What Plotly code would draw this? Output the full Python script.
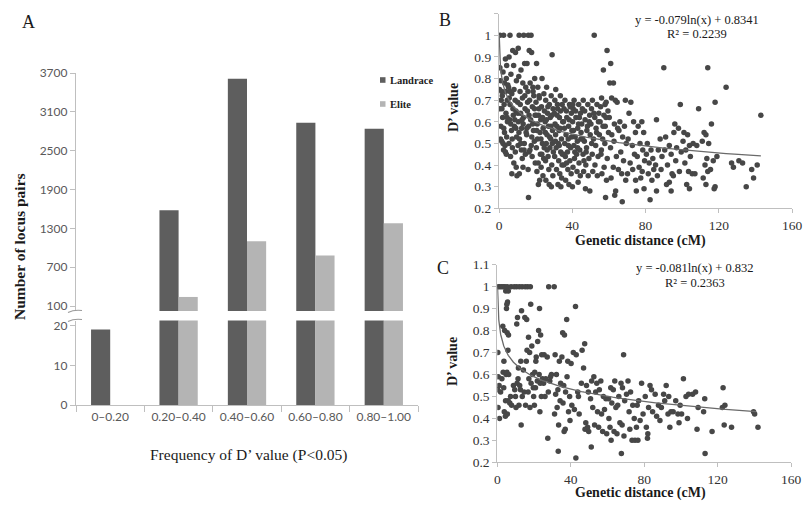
import numpy as np
import plotly.graph_objects as go

# The page body adds an 8px margin on every side; the figure is sized so the page does not overflow.
OFF = 8
W, H = 811 - 2 * OFF, 509 - 2 * OFF
def fx(px): return (px - OFF) / W
def fy(py): return 1 - (py - OFF) / H

# ---------------- Panel A data ----------------
categories = ["0–0.20", "0.20–0.40", "0.40–0.60", "0.60–0.80", "0.80–1.00"]
landrace = [19, 1580, 3610, 2930, 2840]
elite = [0, 240, 1100, 880, 1380]
top_ticks = [100, 700, 1300, 1900, 2500, 3100, 3700]
bottom_ticks = [0, 10, 20]

# ---------------- Panel B data (Genetic distance cM, D' value) ----------------
b_points = [
    (0.5,1.0),(2.5,1.0),(0.5,0.85),(0.3,0.75),(1.5,0.74),(0.5,0.66),(2,0.62),(1,0.58),(3,0.55),(1.5,0.51),(2.5,0.47),(3.5,0.46),(4,0.45),(4,0.80),(3,0.78),(1.8,0.72),(4.5,0.70),(2.8,0.68),(3.8,0.64),(4.6,0.60),(4.2,0.53),(3.3,0.49),(3.5,0.89),(4.2,0.86),(2.2,0.83),(4.8,0.77),
    (6,1.0),(7.5,0.93),(9,0.92),(5.5,0.90),(8,0.86),(6.5,0.82),(9.5,0.79),(5.2,0.76),(7,0.73),(8.8,0.70),(6,0.68),(9.2,0.65),(7.8,0.63),(5.8,0.61),(8.4,0.58),(6.8,0.56),(9.6,0.53),(5.4,0.50),(7.3,0.48),(8.9,0.46),(7,0.36),(9.8,0.35),(6.3,0.44),(8.1,0.41),(9.4,0.39),
    (11,1.0),(13.5,1.0),(10.5,0.94),(14,0.87),(12,0.84),(10.8,0.81),(13,0.78),(14.6,0.76),(11.5,0.74),(12.8,0.71),(10.2,0.69),(14.2,0.66),(11.8,0.64),(13.4,0.62),(10.6,0.60),(12.4,0.57),(14.8,0.55),(11.2,0.52),(13.8,0.50),(10.4,0.49),(12.2,0.47),(13.1,0.39),(11.1,0.36),(14.4,0.45),(12.7,0.43),
    (16,1.0),(17.5,1.0),(16.5,0.93),(17.8,0.92),(15.3,0.87),(19.5,0.80),(17,0.78),(18.5,0.76),(15.8,0.74),(19,0.72),(16.7,0.70),(18.2,0.67),(15.5,0.65),(19.7,0.63),(17.3,0.61),(16.2,0.58),(18.8,0.56),(15.1,0.54),(19.3,0.51),(17.6,0.49),(16.4,0.46),(18.1,0.44),(19.8,0.41),(15.9,0.38),(16.1,0.25),
    (20.5,0.87),(23.5,0.80),(21.2,0.76),(24.5,0.73),(22,0.71),(20.2,0.69),(23.2,0.67),(24.8,0.65),(21.6,0.63),(22.8,0.61),(20.9,0.59),(24.1,0.57),(22.4,0.55),(21,0.52),(23.7,0.50),(20.4,0.48),(22.6,0.45),(24.4,0.43),(21.4,0.41),(23,0.39),(20.7,0.37),(24,0.35),(22.2,0.33),(21.5,0.31),
    (29,0.91),(26,0.76),(28.5,0.72),(25.5,0.70),(27.5,0.68),(29.5,0.66),(26.5,0.64),(28,0.62),(25.2,0.60),(27,0.58),(29.2,0.56),(26.2,0.54),(28.3,0.52),(25.8,0.50),(27.8,0.48),(29.7,0.46),(26.8,0.44),(25.4,0.42),(28.8,0.40),(27.2,0.38),(29.4,0.35),(25.6,0.33),(27.4,0.31),(28.6,0.30),
    (31,0.75),(33.5,0.72),(30.5,0.70),(34.5,0.68),(32,0.66),(30.2,0.64),(33,0.62),(34.8,0.60),(31.6,0.58),(32.8,0.56),(30.9,0.54),(34.1,0.52),(32.4,0.50),(31.2,0.48),(33.7,0.46),(30.4,0.44),(32.6,0.42),(34.4,0.40),(31.4,0.38),(33.2,0.36),(34.2,0.34),(32.2,0.31),(33.8,0.30),
    (36,0.70),(38.5,0.68),(35.5,0.66),(39.5,0.64),(37,0.62),(35.2,0.60),(38,0.58),(39.8,0.56),(36.6,0.54),(37.8,0.52),(35.9,0.50),(39.1,0.48),(37.4,0.46),(36.2,0.44),(38.7,0.42),(35.4,0.40),(37.6,0.38),(39.4,0.36),(36.4,0.33),(38.2,0.31),
    (41,0.70),(43.5,0.68),(40.5,0.66),(44.5,0.64),(42,0.62),(40.2,0.60),(43,0.57),(44.8,0.55),(41.6,0.53),(42.8,0.51),(40.9,0.49),(44.1,0.47),(42.4,0.45),(41.2,0.43),(43.7,0.41),(40.4,0.39),(42.6,0.37),(44.4,0.35),(43.2,0.32),(40.1,0.30),
    (46,0.70),(48.5,0.68),(45.5,0.66),(49.5,0.63),(47,0.61),(45.2,0.59),(48,0.56),(49.8,0.54),(46.6,0.51),(47.8,0.48),(45.9,0.45),(49.1,0.43),(47.4,0.40),(46.2,0.37),(48.7,0.35),(47.2,0.29),(49.6,0.28),
    (52,1.0),(51,0.70),(53.5,0.68),(50.5,0.66),(54.5,0.64),(52.3,0.62),(50.2,0.59),(53,0.57),(54.8,0.54),(51.6,0.52),(52.8,0.49),(50.9,0.45),(54.1,0.44),(52.4,0.40),(51.2,0.37),(53.7,0.35),
    (59,0.93),(57,0.84),(56,0.71),(58.5,0.69),(55.5,0.67),(59.5,0.65),(57.3,0.63),(55.2,0.60),(58,0.58),(59.8,0.55),(56.6,0.52),(57.8,0.50),(55.9,0.47),(59.1,0.43),(57.4,0.39),(56.2,0.36),(58.7,0.33),(58.2,0.25),
    (61,0.87),(60.5,0.78),(62.5,0.78),(61.5,0.71),(63.5,0.70),(64.5,0.69),(60.2,0.62),(63,0.59),(64.8,0.57),(61.6,0.54),(62.8,0.51),(60.9,0.48),(64.1,0.44),(62.4,0.39),(61.2,0.34),(63.7,0.28),(63.2,0.26),
    (69,0.70),(66,0.60),(68.5,0.58),(65.5,0.56),(67.5,0.53),(69.5,0.50),(66.5,0.46),(68,0.42),(65.2,0.38),(67,0.36),(69.2,0.33),(67.3,0.23),
    (72,0.69),(71,0.64),(73.5,0.60),(74.5,0.55),(70.5,0.52),(72.8,0.49),(74,0.45),(71.6,0.41),(73,0.38),(70.2,0.36),(74.6,0.33),(75,0.28),
    (78,0.60),(76,0.58),(79,0.55),(77,0.50),(78.5,0.47),(75.5,0.44),(79.5,0.42),(76.5,0.39),(78.2,0.37),(77.4,0.34),(79.2,0.29),
    (81,0.50),(83,0.47),(80.5,0.45),(84,0.43),(82,0.41),(84.5,0.38),(81.5,0.36),(83.5,0.33),(82.5,0.24),
    (86,0.61),(88,0.52),(87,0.47),(89,0.44),(85.5,0.40),(88.5,0.38),(86.5,0.35),(86,0.28),
    (90,0.85),(91,0.53),(93,0.49),(90.5,0.47),(94,0.45),(92,0.40),(94.5,0.36),(93,0.32),(91.5,0.31),(94,0.28),
    (99,0.68),(96,0.59),(98,0.57),(95.5,0.55),(97,0.48),(99.5,0.46),(96.5,0.42),(98.5,0.37),(95.2,0.35),
    (101,0.55),(103,0.54),(100.5,0.51),(104,0.49),(102,0.47),(104.5,0.44),(101.5,0.41),(103.5,0.37),(102.5,0.31),(104,0.29),
    (109,0.66),(106,0.50),(108,0.49),(105.5,0.36),(107,0.36),
    (114,0.85),(112,0.55),(113,0.54),(111,0.51),(114.5,0.50),(113.5,0.43),(112.5,0.40),(114,0.37),(111.5,0.34),(113,0.31),
    (118,0.69),(116,0.59),(119,0.44),(117,0.42),(115.5,0.38),(118,0.30),(117.5,0.29),
    (124,0.76),(127,0.41),(128,0.39),(131,0.42),(133,0.41),(135,0.30),(139,0.34),(138,0.38),(141,0.40),(143,0.63),
    # denser core of the cloud
    (1.2,0.70),(2.6,0.57),(0.8,0.52),(3.6,0.74),(1.6,0.66),(4.4,0.62),(2.2,0.50),(0.9,0.79),
    (5.9,0.74),(7.6,0.66),(8.6,0.61),(6.4,0.59),(9.2,0.57),(7.2,0.52),(5.6,0.71),(8.2,0.75),
    (11.6,0.68),(13.2,0.59),(10.9,0.55),(14.1,0.72),(12.6,0.61),(11.9,0.50),(13.7,0.47),(10.3,0.64),
    (16.4,0.63),(18.4,0.59),(15.6,0.69),(17.9,0.53),(19.4,0.66),(16.9,0.47),(18.6,0.74),(15.2,0.57),
    (21.8,0.66),(23.8,0.62),(20.6,0.56),(22.9,0.52),(24.7,0.48),(21.9,0.72),(23.4,0.45),(20.3,0.63),
    (26.7,0.67),(28.4,0.58),(25.9,0.61),(27.6,0.53),(29.1,0.50),(26.3,0.47),(28.9,0.63),(25.3,0.55),
    (31.7,0.63),(33.3,0.57),(30.6,0.59),(32.9,0.49),(34.6,0.45),(31.9,0.68),(33.6,0.65),(30.8,0.51),
    (36.8,0.65),(38.3,0.61),(35.7,0.57),(37.9,0.49),(39.6,0.53),(36.9,0.41),(38.9,0.67),(35.3,0.45),
    (41.8,0.65),(43.4,0.59),(40.7,0.56),(42.9,0.48),(44.7,0.52),(41.4,0.46),(43.9,0.62),(40.3,0.68),
    (46.8,0.65),(48.3,0.58),(45.7,0.52),(47.6,0.46),(49.3,0.60),(46.4,0.42),
    (51.8,0.64),(53.3,0.55),(50.6,0.50),(54.3,0.60),(56.8,0.58),(58.4,0.62),(55.7,0.45),(57.9,0.68),
]
b_fit = {"a": -0.079, "b": 0.8341, "x_start": 0.12, "x_end": 143}

# ---------------- Panel C data ----------------
c_points = [
    (0.3,1.0),(1.2,1.0),(2.2,1.0),(3.2,1.0),(4.2,1.0),(4.6,0.98),(3.0,0.82),(4.0,0.80),(0.3,0.70),(0.5,0.59),(2.5,0.58),(1.0,0.55),(3.5,0.54),(0.2,0.53),(1.8,0.52),(4.5,0.48),(0.4,0.45),(3.8,0.43),(4.4,0.41),(1.2,0.40),(3.6,0.66),(3.2,0.61),(4.8,0.60),
    (5.5,1.0),(7.5,1.0),(9.2,1.0),(6.0,0.98),(5.6,0.93),(5.2,0.92),(5.0,0.90),(5.4,0.79),(6.1,0.78),(5.8,0.71),(5.3,0.61),(6.2,0.60),(8.8,0.55),(9.5,0.53),(7.2,0.50),(5.9,0.48),(6.8,0.47),(7.8,0.46),(5.5,0.42),(9.9,0.50),
    (10.5,1.0),(12.0,1.0),(13.5,1.0),(13.2,0.89),(11.0,0.86),(10.6,0.83),(12.8,0.66),(11.5,0.63),(14.2,0.62),(10.8,0.56),(12.2,0.55),(14.6,0.52),(13.6,0.50),(11.8,0.46),(10.2,0.45),(13.0,0.37),(11.3,0.58),(12.6,0.53),
    (15.2,1.0),(16.5,1.0),(18.0,1.0),(18.2,0.92),(15.0,0.86),(16.0,0.85),(17.0,0.77),(18.8,0.73),(16.2,0.71),(17.6,0.70),(15.8,0.66),(19.2,0.60),(17.2,0.58),(18.4,0.56),(19.6,0.54),(16.8,0.52),(15.4,0.46),(17.8,0.45),(19.8,0.50),
    (23.0,0.90),(22.5,0.80),(23.6,0.78),(22.0,0.75),(24.2,0.69),(21.2,0.68),(20.4,0.61),(22.8,0.60),(24.6,0.58),(21.8,0.57),(23.4,0.56),(20.8,0.54),(24.0,0.50),(20.2,0.46),(23.2,0.43),(21.0,0.66),
    (28.0,1.0),(25.5,0.69),(27.2,0.68),(29.5,0.60),(26.4,0.58),(28.6,0.57),(25.2,0.56),(27.8,0.52),(26.0,0.50),(27.5,0.31),(29.0,0.59),
    (31.0,1.0),(31.5,0.69),(33.8,0.66),(32.2,0.60),(34.5,0.56),(33.0,0.53),(31.8,0.51),(34.2,0.48),(32.6,0.45),(31.2,0.42),(33.4,0.37),(33.2,0.25),
    (37.8,0.85),(35.6,0.79),(36.6,0.78),(35.2,0.68),(38.4,0.66),(38.0,0.59),(36.2,0.55),(37.2,0.52),(39.4,0.50),(35.8,0.47),(38.8,0.43),(39.6,0.39),(37.0,0.35),(36.4,0.34),
    (42.6,0.91),(41.4,0.70),(43.0,0.69),(43.8,0.52),(44.2,0.50),(40.6,0.46),(42.0,0.44),(44.6,0.42),(42.8,0.22),(40.2,0.65),
    (47.6,0.74),(46.2,0.71),(47.0,0.63),(45.8,0.56),(48.6,0.55),(49.6,0.52),(48.2,0.38),(49.2,0.36),(47.8,0.35),(49.8,0.34),
    (52.6,0.59),(51.4,0.57),(54.2,0.56),(53.6,0.52),(50.8,0.49),(52.0,0.45),(54.6,0.43),(53.0,0.37),(51.2,0.27),
    (56.4,0.57),(55.6,0.53),(57.8,0.50),(59.2,0.49),(58.4,0.44),(56.8,0.42),(55.2,0.36),(57.4,0.34),(59.6,0.33),
    (64.0,0.57),(61.8,0.54),(63.2,0.53),(60.6,0.49),(62.4,0.47),(64.6,0.45),(60.8,0.40),(61.4,0.36),(63.6,0.34),(62.0,0.30),
    (68.8,0.69),(67.4,0.56),(68.2,0.54),(66.2,0.50),(69.4,0.48),(65.6,0.46),(66.8,0.38),(68.0,0.37),(65.2,0.33),(69.0,0.32),(67.6,0.24),
    (71.2,0.57),(72.6,0.52),(70.4,0.51),(73.8,0.46),(71.8,0.43),(74.6,0.40),(72.2,0.35),(73.4,0.30),(75.0,0.30),
    (78.6,0.56),(77.0,0.48),(76.2,0.46),(79.4,0.42),(77.8,0.39),(75.8,0.36),(76.6,0.30),
    (83.2,0.55),(84.0,0.53),(80.6,0.50),(82.4,0.45),(84.6,0.43),(81.2,0.36),(82.0,0.33),(81.8,0.31),
    (86.0,0.51),(87.8,0.46),(89.4,0.45),(86.8,0.41),(88.6,0.39),
    (92.0,0.55),(90.6,0.51),(93.4,0.50),(91.2,0.48),(94.6,0.43),(93.0,0.42),(94.0,0.36),
    (97.2,0.48),(99.6,0.46),(95.8,0.43),(98.4,0.42),(99.0,0.38),
    (101.4,0.58),(104.2,0.51),(102.8,0.50),(100.4,0.42),(103.6,0.40),
    (108.0,0.52),(106.4,0.51),(109.4,0.45),(108.8,0.35),
    (113.0,0.49),(112.4,0.43),(113.2,0.24),(117.0,0.34),
    (123.0,0.54),(124.0,0.46),(122.6,0.45),(123.6,0.37),(127.6,0.36),
    (139.6,0.43),(140.2,0.42),(142.0,0.36),
]
c_fit = {"a": -0.081, "b": 0.832, "x_start": 0.13, "x_end": 141}

x_ticks_bc = [0, 40, 80, 120, 160]
y_ticks_bc = [0.2, 0.3, 0.4, 0.5, 0.6, 0.7, 0.8, 0.9, 1.0, 1.1]
y_ticktext_bc = ["0.2", "0.3", "0.4", "0.5", "0.6", "0.7", "0.8", "0.9", "1", "1.1"]

# ---------------- Styles ----------------
DARK = "#5e5e5e"
LIGHT = "#b4b4b4"
AXIS = "#bfbfbf"
SERIF = "Liberation Serif, Times New Roman, serif"
SANS = "Lato, Open Sans, sans-serif"
DOT = "#474747"

fig = go.Figure()

# Panel A: bottom section (x, y) and top section (x2, y2)
for yax, xax in (("y", "x"), ("y2", "x2")):
    fig.add_trace(go.Bar(x=categories, y=landrace, name="Landrace", marker_color=DARK,
                         marker_line=dict(width=0),
                         xaxis=xax, yaxis=yax, showlegend=False, offsetgroup="L"))
    fig.add_trace(go.Bar(x=categories, y=elite, name="Elite", marker_color=LIGHT,
                         marker_line=dict(width=0),
                         xaxis=xax, yaxis=yax, showlegend=False, offsetgroup="E"))

def fit_line(fit):
    xs = np.geomspace(fit["x_start"], fit["x_end"], 200)
    return xs, fit["a"] * np.log(xs) + fit["b"]

for pts, fit, xax, yax in ((b_points, b_fit, "x3", "y3"), (c_points, c_fit, "x4", "y4")):
    px_, py_ = zip(*pts)
    fig.add_trace(go.Scatter(x=list(px_), y=list(py_), mode="markers",
                             marker=dict(color=DOT, size=5.5, line=dict(width=0)),
                             xaxis=xax, yaxis=yax, showlegend=False))
    lx, ly = fit_line(fit)
    fig.add_trace(go.Scatter(x=lx, y=ly, mode="lines", line=dict(color="#6a6a6a", width=1.3),
                             xaxis=xax, yaxis=yax, showlegend=False))

xa_dom = [fx(76), fx(418)]
tickfontA = dict(family=SANS, size=12, color="#595959")
tickfontBC = dict(family=SERIF, size=13.5, color="#333333")
common = dict(showline=True, linecolor=AXIS, linewidth=1.2, ticks="outside", tickcolor=AXIS,
              showgrid=False, zeroline=False, automargin=False)

layout = dict(
    template="none",
    width=W, height=H, margin=dict(l=0, r=0, t=0, b=0, pad=0), autosize=False,
    paper_bgcolor="white", plot_bgcolor="white",
    barmode="group", bargap=0.44, bargroupgap=0,
    showlegend=False,
    xaxis=dict(domain=xa_dom, anchor="y", type="category", range=[-0.5, 4.5],
               tickson="boundaries", ticklen=6, tickfont=tickfontA, **common),
    yaxis=dict(domain=[fy(405), fy(320.5)], anchor="x", range=[0, 21.3],
               tickvals=bottom_ticks, ticklen=5, tickfont=tickfontA, **common),
    xaxis2=dict(domain=xa_dom, anchor="y2", matches="x", visible=False, type="category",
                automargin=False),
    yaxis2=dict(domain=[fy(311), fy(73)], anchor="x2", range=[23, 3700],
                tickvals=top_ticks, ticklen=5, tickfont=tickfontA, **common),
    xaxis3=dict(domain=[fx(499), fx(792)], anchor="y3", range=[0, 160], tickvals=x_ticks_bc,
                ticklen=4, tickfont=tickfontBC, **common),
    yaxis3=dict(domain=[fy(208.3), fy(13.7)], anchor="x3", range=[0.2, 1.1],
                tickvals=y_ticks_bc, ticktext=y_ticktext_bc, ticklen=4, tickfont=tickfontBC, **common),
    xaxis4=dict(domain=[fx(497.3), fx(791)], anchor="y4", range=[0, 160], tickvals=x_ticks_bc,
                ticklen=4, tickfont=tickfontBC, **common),
    yaxis4=dict(domain=[fy(462.3), fy(264.7)], anchor="x4", range=[0.2, 1.1],
                tickvals=y_ticks_bc, ticktext=y_ticktext_bc, ticklen=4, tickfont=tickfontBC, **common),
)
fig.update_layout(**layout)

def ann(text, px, py, size, bold=False, angle=0, xanchor="center", color="#1a1a1a", family=SERIF):
    t = f"<b>{text}</b>" if bold else text
    fig.add_annotation(text=t, x=fx(px), y=fy(py), xref="paper", yref="paper",
                       xanchor=xanchor, yanchor="middle", showarrow=False, textangle=angle,
                       font=dict(family=family, size=size, color=color))

ann("A", 28, 22, 18)
ann("Number of locus pairs", 20, 247, 15.5, bold=True, angle=-90)
ann("Frequency of D’ value (P&lt;0.05)", 248, 455, 15.5)
ann("B", 445, 20, 18)
ann("D’ value", 453, 108, 14, bold=True, angle=-90)
ann("Genetic distance (cM)", 640, 241, 14, bold=True)
ann("y = -0.079ln(x) + 0.8341", 697, 20, 12.5)
ann("R² = 0.2239", 697, 34, 12.5)
ann("C", 443, 268, 18)
ann("D’ value", 452, 362, 14, bold=True, angle=-90)
ann("Genetic distance (cM)", 640, 493, 14, bold=True)
ann("y = -0.081ln(x) + 0.832", 695, 268, 12.5)
ann("R² = 0.2363", 695, 283, 12.5)

# legend of panel A (swatches + labels)
legend_items = [("Landrace", DARK, 80), ("Elite", LIGHT, 104)]
for label, col, ly in legend_items:
    fig.add_shape(type="rect", xref="paper", yref="paper",
                  x0=fx(380), x1=fx(385.5), y0=fy(ly + 2.8), y1=fy(ly - 2.8),
                  fillcolor=col, line=dict(width=0))
    ann(label, 387.5, ly, 10.5, bold=True, xanchor="left", color="#222222")

# axis break marks on panel A's y axis
for y0 in (311.5, 320.5):
    fig.add_shape(type="path", xref="paper", yref="paper",
                  path=f"M {fx(68)},{fy(y0+1)} Q {fx(74)},{fy(y0-2)} {fx(82)},{fy(y0-1)}",
                  line=dict(color="#9a9a9a", width=1.2))

fig.write_html("out.html")
